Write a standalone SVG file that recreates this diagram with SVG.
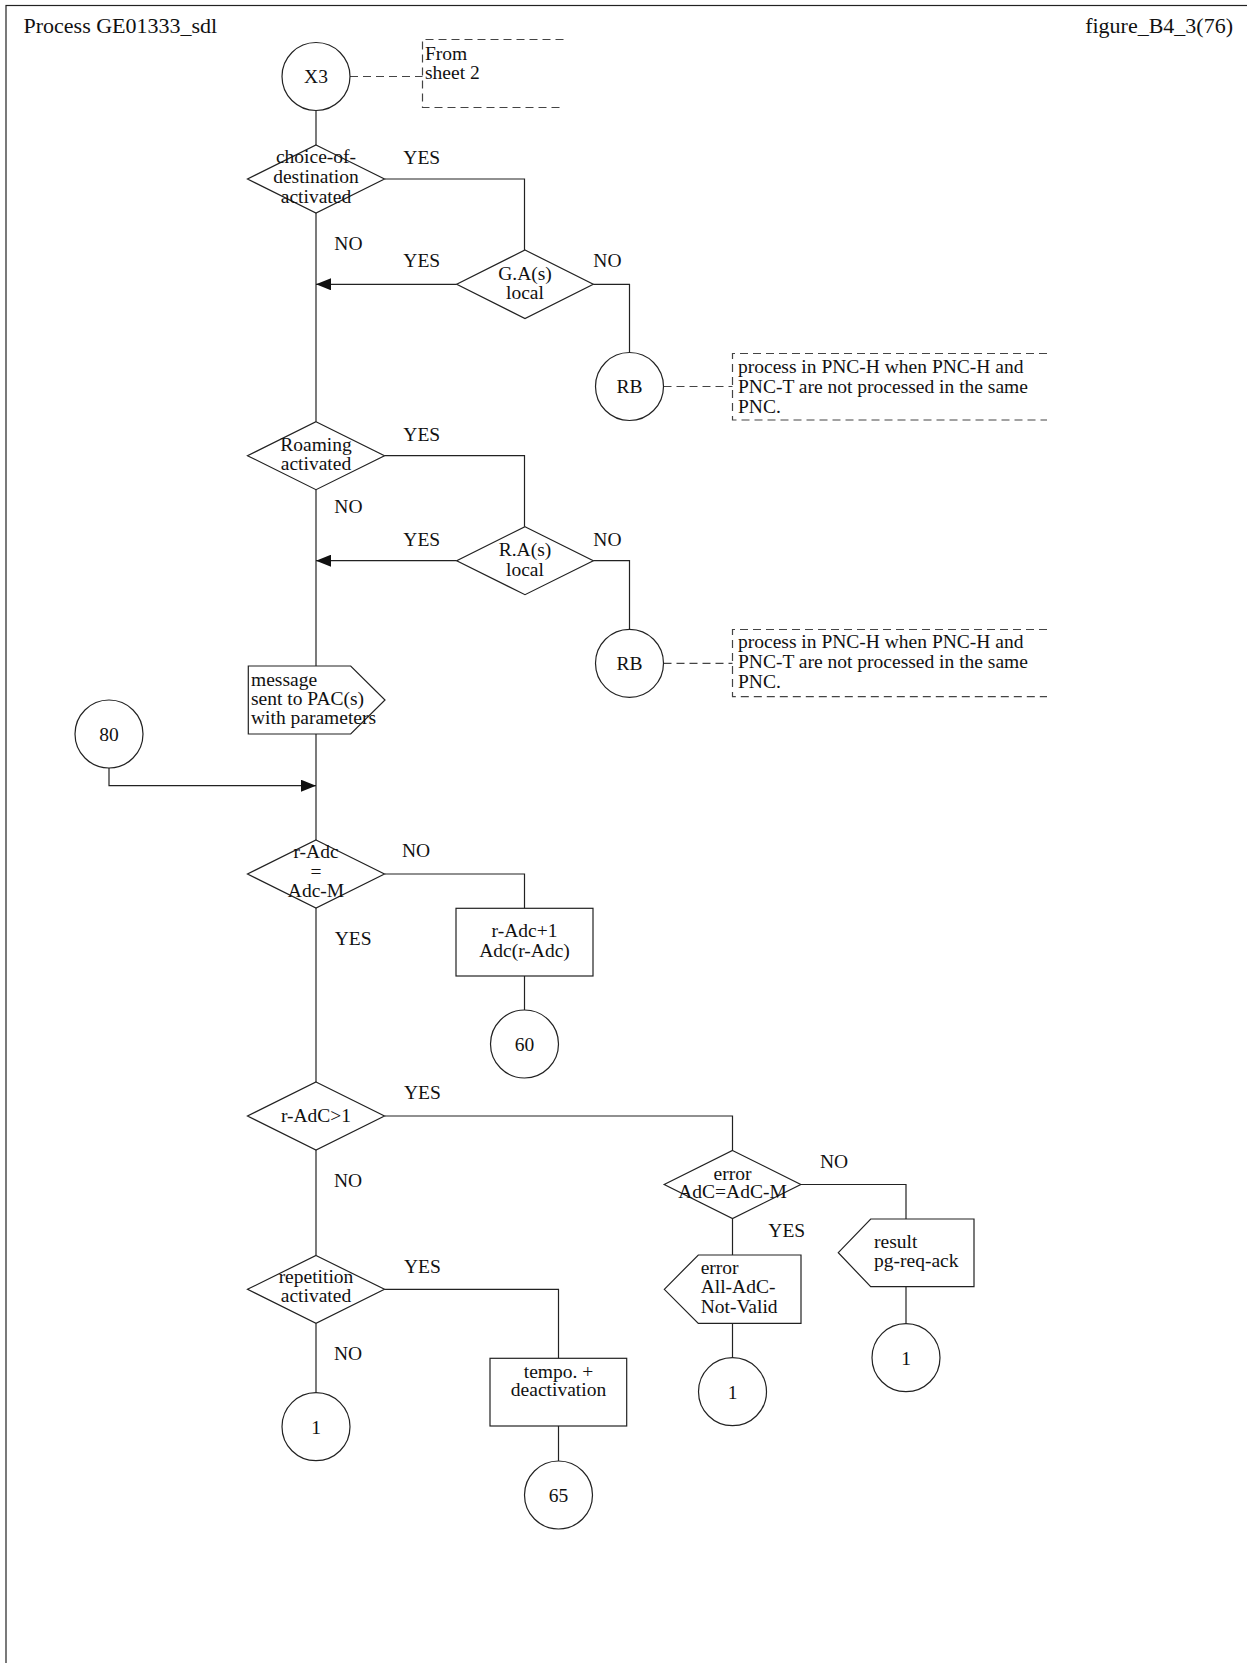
<svg xmlns="http://www.w3.org/2000/svg" width="1247" height="1663" viewBox="0 0 1247 1663">
<defs>
<style>
.s{fill:#fff;stroke:#222;stroke-width:1.2}
.c{fill:none;stroke:#222;stroke-width:1.2}
.d{fill:none;stroke:#444;stroke-width:1.2;stroke-dasharray:8 5}
text{font-family:"Liberation Serif","Times New Roman",serif;font-size:19.5px;fill:#111}
.m{text-anchor:middle}
.h{font-size:22px}
</style>
<marker id="arr" markerUnits="userSpaceOnUse" markerWidth="15" markerHeight="12" refX="15" refY="6" orient="auto">
<path d="M0,0 L15,6 L0,12 z" fill="#111"/>
</marker>
</defs>
<rect width="1247" height="1663" fill="#fff"/>
<rect x="6" y="5.5" width="1300" height="1700" class="c"/>
<text class="h" x="23.5" y="33">Process GE01333_sdl</text>
<text class="h" x="1233" y="33" text-anchor="end">figure_B4_3(76)</text>

<g id="connectors">
<path class="c" d="M316,110.5 V145"/>
<path class="c" d="M316,213 V421.7"/>
<path class="c" d="M384.5,179 H524.5 V250"/>
<path class="c" d="M456.7,284.3 H316" marker-end="url(#arr)"/>
<path class="c" d="M593.3,284.3 H629.5 V352.5"/>
<path class="c" d="M316,489.7 V666"/>
<path class="c" d="M384.5,455.7 H524.5 V526.7"/>
<path class="c" d="M456.7,560.7 H316" marker-end="url(#arr)"/>
<path class="c" d="M593.3,560.7 H629.5 V629.3"/>
<path class="c" d="M316,734 V840"/>
<path class="c" d="M109,768 V785.7 H316" marker-end="url(#arr)"/>
<path class="c" d="M384.5,874 H524.5 V908.3"/>
<path class="c" d="M524.5,976 V1010"/>
<path class="c" d="M316,908 V1082"/>
<path class="c" d="M384.5,1116 H732.5 V1150.5"/>
<path class="c" d="M316,1150 V1255.5"/>
<path class="c" d="M800.8,1184.5 H906 V1219"/>
<path class="c" d="M906,1286.7 V1323.7"/>
<path class="c" d="M732.5,1218.5 V1255"/>
<path class="c" d="M732.5,1323.3 V1357.7"/>
<path class="c" d="M384.5,1289.3 H558.5 V1358.3"/>
<path class="c" d="M558.5,1426 V1461"/>
<path class="c" d="M316,1323.3 V1392.7"/>
<path class="d" d="M350,76.5 H422.5"/>
<path class="d" d="M663.5,386.5 H732.5"/>
<path class="d" d="M663.5,663.3 H732.5"/>
</g>

<g id="X3"><circle class="s" cx="316" cy="76.5" r="34"/><text class="m" x="316" y="83">X3</text></g>
<g id="comment1"><path class="d" d="M563.5,39.5 H422.5 V107.5 H563.5"/><text x="425" y="60">From</text><text x="425" y="79">sheet 2</text></g>

<g id="choice"><polygon class="s" points="316,145 384.5,179 316,213 247.5,179"/>
<text class="m" x="316" y="163.3">choice-of-</text><text class="m" x="316" y="183">destination</text><text class="m" x="316" y="202.7">activated</text></g>

<g id="GA"><polygon class="s" points="525,250 593.3,284.3 525,318.5 456.7,284.3"/>
<text class="m" x="525" y="280">G.A(s)</text><text class="m" x="525" y="298.5">local</text></g>

<g id="RB1"><circle class="s" cx="629.5" cy="386.5" r="34"/><text class="m" x="629.5" y="393">RB</text></g>
<g id="comment2"><path class="d" d="M1047,353.5 H732.5 V420 H1047"/>
<text x="738" y="373.3">process in PNC-H when PNC-H and</text><text x="738" y="393.3">PNC-T are not processed in the same</text><text x="738" y="412.7">PNC.</text></g>

<g id="roaming"><polygon class="s" points="316,421.7 384.5,455.7 316,489.7 247.5,455.7"/>
<text class="m" x="316" y="450.7">Roaming</text><text class="m" x="316" y="470">activated</text></g>

<g id="RA"><polygon class="s" points="525,526.7 593.3,560.7 525,594.7 456.7,560.7"/>
<text class="m" x="525" y="556">R.A(s)</text><text class="m" x="525" y="575.7">local</text></g>

<g id="RB2"><circle class="s" cx="629.5" cy="663.3" r="34"/><text class="m" x="629.5" y="670">RB</text></g>
<g id="comment3"><path class="d" d="M1047,629.5 H732.5 V696.7 H1047"/>
<text x="738" y="648.3">process in PNC-H when PNC-H and</text><text x="738" y="668.3">PNC-T are not processed in the same</text><text x="738" y="687.7">PNC.</text></g>

<g id="message"><polygon class="s" points="248.3,666 350.7,666 385,700 350.7,734 248.3,734"/>
<text x="251" y="686">message</text><text x="251" y="705">sent to PAC(s)</text><text x="251" y="724">with parameters</text></g>

<g id="c80"><circle class="s" cx="109" cy="734" r="34"/><text class="m" x="109" y="741">80</text></g>

<g id="rAdc"><polygon class="s" points="316,840 384.5,874 316,908 247.5,874"/>
<text class="m" x="316" y="858.3">r-Adc</text><text class="m" x="316" y="878">=</text><text class="m" x="316" y="897.3">Adc-M</text></g>

<g id="incr"><rect class="s" x="456" y="908.3" width="137" height="67.7"/>
<text class="m" x="524.5" y="937.3">r-Adc+1</text><text class="m" x="524.5" y="956.7">Adc(r-Adc)</text></g>

<g id="c60"><circle class="s" cx="524.5" cy="1044" r="34"/><text class="m" x="524.5" y="1050.5">60</text></g>

<g id="rAdCgt1"><polygon class="s" points="316,1082 384.5,1116 316,1150 247.5,1116"/>
<text class="m" x="316" y="1121.7">r-AdC&gt;1</text></g>

<g id="errorDec"><polygon class="s" points="732.5,1150.5 800.8,1184.5 732.5,1218.5 664.2,1184.5"/>
<text class="m" x="732.5" y="1180">error</text><text class="m" x="732.5" y="1198.3">AdC=AdC-M</text></g>

<g id="result"><polygon class="s" points="838.3,1252.7 870.7,1219 974,1219 974,1286.7 870.7,1286.7"/>
<text x="874" y="1248.3">result</text><text x="874" y="1267.3">pg-req-ack</text></g>

<g id="c1a"><circle class="s" cx="906" cy="1357.7" r="34"/><text class="m" x="906" y="1364.5">1</text></g>

<g id="errorOut"><polygon class="s" points="664.3,1289.3 698.3,1255 801,1255 801,1323.3 698.3,1323.3"/>
<text x="700.7" y="1274">error</text><text x="700.7" y="1293.3">All-AdC-</text><text x="700.7" y="1312.7">Not-Valid</text></g>

<g id="c1b"><circle class="s" cx="732.5" cy="1391.7" r="34"/><text class="m" x="732.5" y="1398.5">1</text></g>

<g id="repetition"><polygon class="s" points="316,1255.5 384.5,1289.3 316,1323.3 247.5,1289.3"/>
<text class="m" x="316" y="1283.3">repetition</text><text class="m" x="316" y="1302.3">activated</text></g>

<g id="tempo"><rect class="s" x="490" y="1358.3" width="136.7" height="67.7"/>
<text class="m" x="558.5" y="1378.3">tempo. +</text><text class="m" x="558.5" y="1396">deactivation</text></g>

<g id="c65"><circle class="s" cx="558.5" cy="1495" r="34"/><text class="m" x="558.5" y="1501.5">65</text></g>

<g id="c1c"><circle class="s" cx="316" cy="1426.7" r="34"/><text class="m" x="316" y="1433.5">1</text></g>

<g id="labels">
<text x="403.3" y="164">YES</text>
<text x="334.3" y="250">NO</text>
<text x="403.3" y="266.7">YES</text>
<text x="593.3" y="266.7">NO</text>
<text x="403.3" y="440.7">YES</text>
<text x="334.3" y="513.3">NO</text>
<text x="403.3" y="545.7">YES</text>
<text x="593.3" y="545.7">NO</text>
<text x="402" y="856.7">NO</text>
<text x="334.7" y="945">YES</text>
<text x="404" y="1099.3">YES</text>
<text x="334" y="1186.7">NO</text>
<text x="820" y="1168.3">NO</text>
<text x="768.3" y="1237.3">YES</text>
<text x="404" y="1272.7">YES</text>
<text x="334" y="1360">NO</text>
</g>
</svg>
